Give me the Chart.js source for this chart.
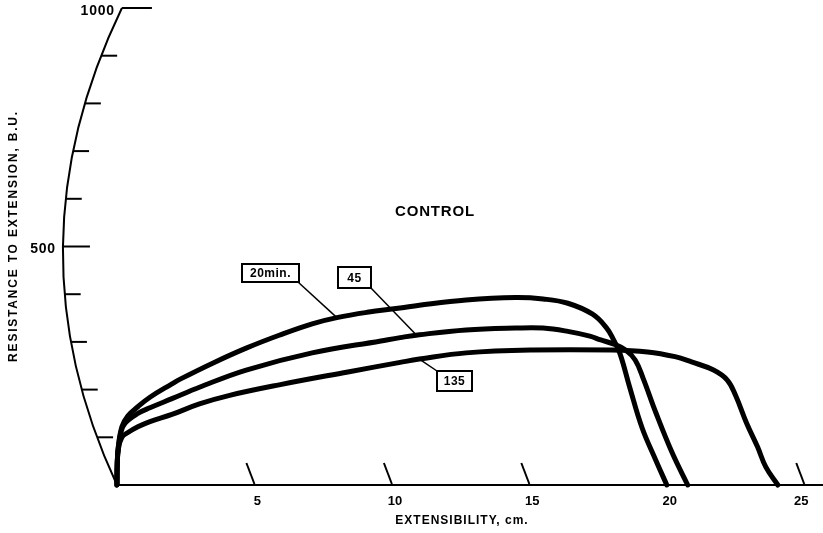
<!DOCTYPE html>
<html>
<head>
<meta charset="utf-8">
<script src="https://cdn.jsdelivr.net/npm/chart.js@4.4.1/dist/chart.umd.min.js"></script>
<style>
  body { margin: 0; background: #fff; }
  #wrap { width: 823px; height: 533px; position: relative; }
</style>
</head>
<body>
<div id="wrap"><canvas id="extChart"></canvas></div>
<script>
// extensibility (cm) / resistance (B.U.)
let ext20 = [0, 0.01, 0.05, 0.18, 0.4, 0.76, 1.2, 2.0, 2.3, 3.5, 4.7, 5.9, 7.1, 8.0, 9.1, 10.3, 11.0, 12.7, 14.5, 15.5, 16.4, 17.3, 17.8, 18.05, 18.3, 18.65, 19.1, 19.6, 20.0];
let res20 = [0, 45, 80, 122, 145, 164, 184, 212, 222, 256, 287, 314, 338, 351, 362, 371, 377, 388, 393, 390, 381, 358, 330, 306, 275, 205, 120, 52, 0];

let ext45 = [0, 0.01, 0.05, 0.15, 0.3, 0.76, 1.2, 2.0, 3.0, 4.7, 7.1, 9.6, 10.3, 11.0, 12.7, 14.5, 15.5, 16.4, 17.2, 17.6, 18.05, 18.5, 18.85, 19.15, 19.6, 20.2, 20.76];
let res45 = [0, 45, 80, 112, 130, 150, 162, 181, 205, 241, 277, 302, 309, 315, 325, 329, 329, 322, 312, 304, 296, 283, 262, 222, 152, 67, 0];

let ext135 = [0, 0.01, 0.05, 0.18, 0.4, 0.76, 1.2, 2.0, 3.0, 4.1, 5.9, 8.4, 10.3, 11.0, 12.7, 15.1, 18.0, 19.3, 20.3, 20.9, 21.7, 22.2, 22.5, 22.9, 23.3, 23.6, 24.04];
let res135 = [0, 45, 75, 100, 110, 122, 133, 148, 170, 188, 210, 237, 257, 264, 277, 283, 283, 279, 269, 258, 241, 220, 188, 130, 80, 38, 0];

let seriesNames = ["20min.", "45", "135"];
let xTicks = [5, 10, 15, 20, 25];
let xTickLabels = ["5", "10", "15", "20", "25"];
let yTicks = [100, 200, 300, 400, 500, 600, 700, 800, 900, 1000];
let yLabelValues = [500, 1000];
let yLabelTexts = ["500", "1000"];

// where each curve label points to (extensibility on its curve)
let labelAnchorExt = [8.0, 10.9, 11.0];

function toPoints(xs, ys) {
  return xs.map((v, i) => ({ x: v, y: ys[i] }));
}

function valueAt(xs, ys, v) {
  for (let i = 1; i < xs.length; i++) {
    if (xs[i] >= v) {
      let t = (v - xs[i - 1]) / (xs[i] - xs[i - 1]);
      return ys[i - 1] + t * (ys[i] - ys[i - 1]);
    }
  }
  return ys[ys.length - 1];
}

const FONT = "'Liberation Sans', Arial, sans-serif";

// resistance axis is drawn curved like the recorder paper
function arcGeom(chart) {
  let xs = chart.scales.x, ys = chart.scales.y;
  return {
    p0: { x: xs.getPixelForValue(0), y: ys.getPixelForValue(0) },
    c: { x: xs.getPixelForValue(-4.02), y: ys.getPixelForValue(498) },
    p2: { x: xs.getPixelForValue(0.18), y: ys.getPixelForValue(1000) },
  };
}

function arcXAt(g, py) {
  let lo = 0, hi = 1;
  for (let k = 0; k < 40; k++) {
    let t = (lo + hi) / 2;
    let y = (1 - t) * (1 - t) * g.p0.y + 2 * t * (1 - t) * g.c.y + t * t * g.p2.y;
    if (y > py) lo = t; else hi = t;
  }
  let t = (lo + hi) / 2;
  return (1 - t) * (1 - t) * g.p0.x + 2 * t * (1 - t) * g.c.x + t * t * g.p2.x;
}

const axesPlugin = {
  id: "extAxes",
  beforeDatasetsDraw(chart) {
    let ctx = chart.ctx;
    let xs = chart.scales.x, ys = chart.scales.y;
    let y0 = ys.getPixelForValue(0);
    ctx.save();
    ctx.strokeStyle = "#000";
    ctx.lineWidth = 2;
    ctx.lineCap = "butt";

    // extensibility baseline
    ctx.beginPath();
    ctx.moveTo(xs.getPixelForValue(-0.05), y0);
    ctx.lineTo(xs.getPixelForValue(25.7), y0);
    ctx.stroke();

    // slanted ticks
    xTicks.forEach((v) => {
      if (v === 20) return; // hidden under the curves
      let px = xs.getPixelForValue(v);
      ctx.beginPath();
      ctx.moveTo(px, y0 - 1);
      ctx.lineTo(px - 8, y0 - 22);
      ctx.stroke();
    });

    // curved resistance axis
    let g = arcGeom(chart);
    ctx.beginPath();
    ctx.moveTo(g.p0.x, g.p0.y);
    ctx.quadraticCurveTo(g.c.x, g.c.y, g.p2.x, g.p2.y);
    ctx.stroke();

    yTicks.forEach((v) => {
      let py = ys.getPixelForValue(v);
      let ax = arcXAt(g, py);
      let len = v === 500 ? 27 : v === 1000 ? 30 : 16;
      ctx.beginPath();
      ctx.moveTo(ax, py);
      ctx.lineTo(ax + len, py);
      ctx.stroke();
    });
    ctx.restore();
  },
  afterDatasetsDraw(chart) {
    let ctx = chart.ctx;
    let xs = chart.scales.x, ys = chart.scales.y;
    let y0 = ys.getPixelForValue(0);
    let g = arcGeom(chart);
    ctx.save();
    ctx.fillStyle = "#000";

    // x tick labels
    ctx.font = "bold 13px " + FONT;
    ctx.textAlign = "center";
    ctx.textBaseline = "middle";
    xTicks.forEach((v, i) => {
      let shift = v === 25 ? -3 : 3;
      ctx.fillText(xTickLabels[i], xs.getPixelForValue(v) + shift, y0 + 16);
    });

    // y labels
    ctx.font = "bold 14px " + FONT;
    ctx.letterSpacing = "0.8px";
    ctx.textAlign = "right";
    yLabelValues.forEach((v, i) => {
      let py = ys.getPixelForValue(v);
      let ax = arcXAt(g, py);
      ctx.fillText(yLabelTexts[i], ax - 7, py + 3);
    });

    // axis titles
    ctx.font = "bold 12px " + FONT;
    ctx.letterSpacing = "1px";
    ctx.textAlign = "center";
    ctx.fillText("EXTENSIBILITY, cm.", 462, 521);

    ctx.save();
    ctx.translate(14, 236);
    ctx.rotate(-Math.PI / 2);
    ctx.font = "bold 12px " + FONT;
    ctx.letterSpacing = "1.8px";
    ctx.fillText("RESISTANCE TO EXTENSION, B.U.", 0, 0);
    ctx.restore();

    // title
    ctx.font = "bold 15px " + FONT;
    ctx.letterSpacing = "0.8px";
    ctx.fillText("CONTROL", 435, 212);

    // curve labels with leader lines
    let curves = [[ext20, res20], [ext45, res45], [ext135, res135]];
    let boxes = [
      { x: 242, y: 264, w: 57, h: 18, corner: [298, 282] },
      { x: 338, y: 267, w: 33, h: 21, corner: [370, 287] },
      { x: 437, y: 371, w: 35, h: 20, corner: [437, 371] },
    ];
    ctx.letterSpacing = "0.5px";
    seriesNames.forEach((name, i) => {
      let ax = labelAnchorExt[i];
      let ay = valueAt(curves[i][0], curves[i][1], ax);
      let px = xs.getPixelForValue(ax), py = ys.getPixelForValue(ay);
      let b = boxes[i];
      ctx.strokeStyle = "#000";
      ctx.lineWidth = 1.5;
      ctx.beginPath();
      ctx.moveTo(b.corner[0], b.corner[1]);
      ctx.lineTo(px, py);
      ctx.stroke();
      ctx.fillStyle = "#fff";
      ctx.fillRect(b.x, b.y, b.w, b.h);
      ctx.lineWidth = 2;
      ctx.strokeRect(b.x, b.y, b.w, b.h);
      ctx.fillStyle = "#000";
      ctx.font = "bold 12px " + FONT;
      ctx.textAlign = "center";
      ctx.fillText(name, b.x + b.w / 2, b.y + b.h / 2 + 1);
    });
    ctx.restore();
  },
};

function makeSet(label, xs, ys) {
  return {
    label: label,
    data: toPoints(xs, ys),
    showLine: true,
    borderColor: "#000",
    borderWidth: 5,
    pointRadius: 0,
    tension: 0.4,
    borderCapStyle: "round",
    borderJoinStyle: "round",
    clip: false,
  };
}

new Chart(document.getElementById("extChart"), {
  type: "scatter",
  data: {
    datasets: [
      makeSet(seriesNames[0], ext20, res20),
      makeSet(seriesNames[1], ext45, res45),
      makeSet(seriesNames[2], ext135, res135),
    ],
  },
  options: {
    responsive: true,
    maintainAspectRatio: false,
    animation: false,
    layout: { padding: { left: 7, right: 5, top: 8, bottom: 48 } },
    plugins: { legend: { display: false }, tooltip: { enabled: false } },
    scales: {
      x: { type: "linear", min: -4, max: 25.5, display: false },
      y: { type: "linear", min: 0, max: 1000, display: false },
    },
  },
  plugins: [axesPlugin],
});
</script>
</body>
</html>
